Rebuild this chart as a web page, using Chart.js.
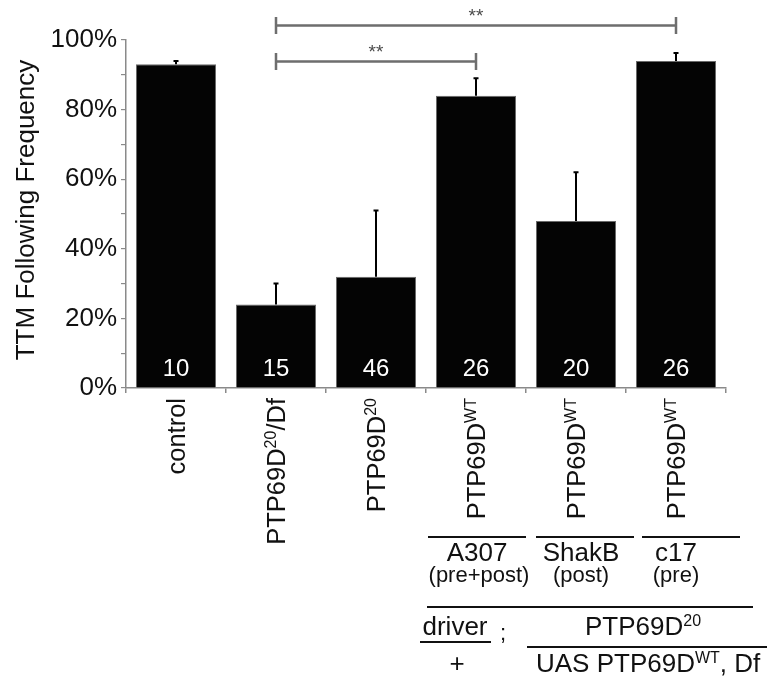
<!DOCTYPE html>
<html>
<head>
<meta charset="utf-8">
<script src="https://cdn.jsdelivr.net/npm/chart.js@4"></script>
<style>
  html, body { margin: 0; padding: 0; background: #fff; }
  canvas { display: block; }
</style>
</head>
<body>
<canvas id="c" width="767" height="676"></canvas>
<script>
// ---- data ----
const categories = ['control', 'PTP69D^{20}/Df', 'PTP69D^{20}', 'PTP69D^{WT}', 'PTP69D^{WT}', 'PTP69D^{WT}'];
const frequency = [93, 24, 32, 84, 48, 94];        // % following
const errorUpper = [1, 6, 19, 5, 14, 2.3];          // upper error (percentage points)
const counts = [10, 15, 46, 26, 20, 26];            // n per group
const yTickValues = [0, 20, 40, 60, 80, 100];
const sigFrom = [1, 1];
const sigTo = [3, 5];
const sigLevel = [93.8, 104.2];
const sigLabel = ['**', '**'];
const driverIndex = [3, 4, 5];
const driverNames = ['A307', 'ShakB', 'c17'];
const driverSites = ['(pre+post)', '(post)', '(pre)'];
const yTitle = 'TTM Following Frequency';

const FONT = '"Liberation Sans", Arial, Helvetica, sans-serif';

function parseRich(s) {
  const segs = [];
  const re = /\^\{([^}]*)\}/g;
  let last = 0, m;
  while ((m = re.exec(s))) {
    if (m.index > last) segs.push({ t: s.slice(last, m.index), sup: false });
    segs.push({ t: m[1], sup: true });
    last = re.lastIndex;
  }
  if (last < s.length) segs.push({ t: s.slice(last), sup: false });
  return segs;
}
function plain(s) { return parseRich(s).map(x => x.t).join(''); }

function richWidth(ctx, segs, size) {
  let w = 0;
  segs.forEach(sg => {
    ctx.font = (sg.sup ? Math.round(size * 0.62) : size) + 'px ' + FONT;
    w += ctx.measureText(sg.t).width;
  });
  return w;
}
function drawRich(ctx, segs, x, y, size) {
  let cx = x;
  segs.forEach(sg => {
    const fs = sg.sup ? Math.round(size * 0.62) : size;
    ctx.font = fs + 'px ' + FONT;
    ctx.fillText(sg.t, cx, sg.sup ? y - size * 0.36 : y);
    cx += ctx.measureText(sg.t).width;
  });
}

const overlay = {
  id: 'overlay',
  afterDatasetsDraw(chart) {
    const ctx = chart.ctx;
    const xs = chart.scales.x, ys = chart.scales.y;
    const ca = chart.chartArea;
    const meta = chart.getDatasetMeta(0);
    ctx.save();

    // error bars
    ctx.strokeStyle = '#000';
    ctx.lineWidth = 2;
    frequency.forEach((v, i) => {
      const x = meta.data[i].x;
      const y0 = ys.getPixelForValue(v);
      const y1 = ys.getPixelForValue(v + errorUpper[i]);
      ctx.beginPath();
      ctx.moveTo(x, y0); ctx.lineTo(x, y1);
      ctx.moveTo(x - 2.5, y1); ctx.lineTo(x + 2.5, y1);
      ctx.stroke();
    });

    // counts inside bars
    ctx.fillStyle = '#fff';
    ctx.font = '24px ' + FONT;
    ctx.textAlign = 'center';
    ctx.textBaseline = 'middle';
    counts.forEach((n, i) => {
      ctx.fillText(String(n), meta.data[i].x, ys.getPixelForValue(0) - 19);
    });

    // significance brackets
    ctx.strokeStyle = '#6e6e6e';
    ctx.fillStyle = '#4a4a4a';
    ctx.lineWidth = 2.5;
    sigFrom.forEach((f, k) => {
      const x1 = xs.getPixelForValue(f), x2 = xs.getPixelForValue(sigTo[k]);
      const y = ys.getPixelForValue(sigLevel[k]);
      ctx.beginPath();
      ctx.moveTo(x1, y); ctx.lineTo(x2, y);
      ctx.moveTo(x1, y - 8.5); ctx.lineTo(x1, y + 8.5);
      ctx.moveTo(x2, y - 8.5); ctx.lineTo(x2, y + 8.5);
      ctx.stroke();
      ctx.font = '19px ' + FONT;
      ctx.textAlign = 'center';
      ctx.textBaseline = 'alphabetic';
      ctx.fillText(sigLabel[k], (x1 + x2) / 2, y - 3.5);
    });

    // rotated category labels
    ctx.fillStyle = '#111';
    ctx.textAlign = 'left';
    ctx.textBaseline = 'alphabetic';
    const labSize = 25.5;
    categories.forEach((c, i) => {
      const segs = parseRich(c);
      const w = richWidth(ctx, segs, labSize);
      const xc = xs.getPixelForValue(i);
      ctx.save();
      ctx.translate(xc + 9, ca.bottom + 10);
      ctx.rotate(-Math.PI / 2);
      drawRich(ctx, segs, -w, 0, labSize);
      ctx.restore();
    });

    // y axis title
    ctx.save();
    ctx.translate(27, (ca.top + ca.bottom) / 2 - 4);
    ctx.rotate(-Math.PI / 2);
    ctx.font = '26px ' + FONT;
    ctx.textAlign = 'center';
    ctx.textBaseline = 'middle';
    ctx.fillStyle = '#111';
    ctx.fillText(yTitle, 0, 0);
    ctx.restore();

    // genotype annotation below
    ctx.strokeStyle = '#111';
    ctx.fillStyle = '#111';
    ctx.lineWidth = 2;
    const lineShift = [1, 9, 15];
    const textShift = [1, 5, 0];
    driverIndex.forEach((di, k) => {
      const xc = xs.getPixelForValue(di);
      ctx.beginPath();
      ctx.moveTo(xc + lineShift[k] - 49, 537);
      ctx.lineTo(xc + lineShift[k] + 49, 537);
      ctx.stroke();
      ctx.textAlign = 'center';
      ctx.font = '26px ' + FONT;
      ctx.fillText(driverNames[k], xc + textShift[k], 561);
      ctx.font = '22px ' + FONT;
      ctx.fillText(driverSites[k], xc + (k === 0 ? 3 : textShift[k]), 582);
    });
    ctx.beginPath();
    ctx.moveTo(427, 607); ctx.lineTo(753, 607);
    ctx.stroke();
    ctx.textAlign = 'center';
    ctx.font = '26px ' + FONT;
    ctx.fillText('driver', 455, 635);
    ctx.beginPath();
    ctx.moveTo(420, 642); ctx.lineTo(491, 642);
    ctx.stroke();
    ctx.fillText('+', 457, 672);
    ctx.font = '22px ' + FONT;
    ctx.fillText(';', 503, 640);
    const top = parseRich('PTP69D^{20}');
    const tw = richWidth(ctx, top, 26);
    ctx.textAlign = 'left';
    drawRich(ctx, top, 643 - tw / 2, 635, 26);
    ctx.beginPath();
    ctx.moveTo(527, 647); ctx.lineTo(767, 647);
    ctx.stroke();
    drawRich(ctx, parseRich('UAS PTP69D^{WT}, Df'), 536, 672, 26);

    ctx.restore();
  }
};

new Chart(document.getElementById('c'), {
  type: 'bar',
  data: {
    labels: categories.map(plain),
    datasets: [{
      data: frequency,
      backgroundColor: '#040404',
      borderColor: '#6a6a6a',
      borderWidth: 1,
      categoryPercentage: 0.8,
      barPercentage: 1.0
    }]
  },
  options: {
    responsive: false,
    animation: false,
    devicePixelRatio: 1,
    layout: { padding: { top: 40, right: 41, left: 0, bottom: 0 } },
    plugins: { legend: { display: false }, tooltip: { enabled: false } },
    scales: {
      x: {
        grid: { drawOnChartArea: false, drawTicks: true, tickLength: 5, color: '#8a8a8a', offset: true, lineWidth: 1.5 },
        border: { color: '#8a8a8a', width: 1.5 },
        ticks: { display: false },
        afterFit(s) { s.height = 288; }
      },
      y: {
        min: 0, max: 100,
        grid: { drawOnChartArea: false, tickLength: 5, color: '#8a8a8a', lineWidth: 1.2 },
        border: { color: '#8a8a8a', width: 1.5 },
        ticks: {
          stepSize: 10,
          autoSkip: false,
          padding: 4,
          color: '#111',
          font: { size: 26, family: FONT },
          callback: v => (yTickValues.includes(v) ? v + '%' : '')
        },
        afterFit(s) { s.width = 126; }
      }
    }
  },
  plugins: [overlay]
});
</script>
</body>
</html>
